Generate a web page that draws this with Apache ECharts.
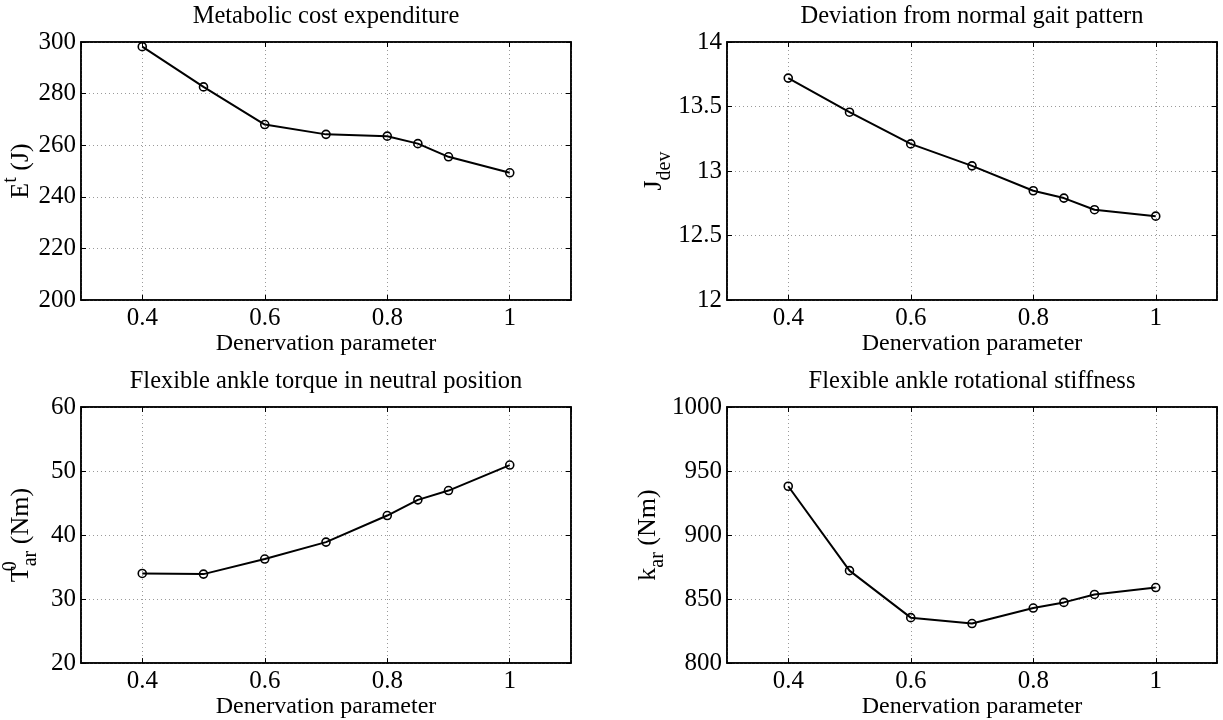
<!DOCTYPE html>
<html>
<head>
<meta charset="utf-8">
<script src="https://cdn.jsdelivr.net/npm/echarts@6/dist/echarts.min.js"></script>
<style>
  html, body { margin: 0; padding: 0; background: #ffffff; }
  #chart { width: 1223px; height: 720px; }
</style>
</head>
<body>
<div id="chart"></div>
<script>
// Denervation parameter sweep and the four resulting quantities
const denervation = [0.4, 0.5, 0.6, 0.7, 0.8, 0.85, 0.9, 1.0];
const metabolicCost = [298.2, 282.6, 268.0, 264.2, 263.5, 260.6, 255.5, 249.3];
const gaitDeviation = [13.72, 13.456, 13.21, 13.04, 12.847, 12.79, 12.70, 12.65];
const neutralTorque = [34.0, 33.9, 36.25, 38.9, 43.05, 45.5, 46.95, 50.93];
const rotStiffness = [938.1, 872.2, 835.5, 830.9, 843.0, 847.4, 853.6, 859.0];

const panelTitles = [
  'Metabolic cost expenditure',
  'Deviation from normal gait pattern',
  'Flexible ankle torque in neutral position',
  'Flexible ankle rotational stiffness'
];
const yLabels = [
  '{m|E}{sup|t}{m| (J)}',
  '{m|J}{sub|dev}',
  '{m|T}{supStack|0}{sub|ar}{m| (Nm)}',
  '{m|k}{sub|ar}{m| (Nm)}'
];
const xLabel = 'Denervation parameter';
const xRange = [0.3, 1.1];
// [min, max, interval] for each panel's vertical axis
const yRanges = [[200, 300, 20], [12, 14, 0.5], [20, 60, 10], [800, 1000, 50]];
const seriesValues = [metabolicCost, gaitDeviation, neutralTorque, rotStiffness];

const FONT = "'Liberation Serif', 'DejaVu Serif', serif";
const panels = [
  { left: 81, top: 42 },
  { left: 727, top: 42 },
  { left: 81, top: 407 },
  { left: 727, top: 407 }
];
const PW = 490, PH = 258;

const textBase = { fontFamily: FONT, color: '#000' };
const richStyles = {
  m: Object.assign({ fontSize: 26, lineHeight: 40, verticalAlign: 'middle' }, textBase),
  sup: Object.assign({ fontSize: 20, lineHeight: 20, verticalAlign: 'top' }, textBase),
  supStack: Object.assign({ fontSize: 20, lineHeight: 20, verticalAlign: 'top', width: 0.01 }, textBase),
  sub: Object.assign({ fontSize: 20, lineHeight: 20, verticalAlign: 'bottom' }, textBase)
};

const tickStyle = { inside: true, length: 5, lineStyle: { color: '#000', width: 1 } };
const lineStyleAxis = { show: true, onZero: false, lineStyle: { color: '#000', width: 1.5 } };
const gridLine = { show: true, lineStyle: { color: '#9a9a9a', width: 1, type: [1, 3] } };

const grid = [], xAxis = [], yAxis = [], series = [], title = [];

panels.forEach((p, i) => {
  grid.push({ left: p.left, top: p.top, width: PW, height: PH, containLabel: false,
              show: true, borderColor: '#000', borderWidth: 1.5, backgroundColor: '#fff' });

  title.push({
    text: panelTitles[i], left: p.left + PW / 2, top: p.top - 38, textAlign: 'center', padding: 0,
    textStyle: { fontFamily: FONT, fontSize: 24.5, fontWeight: 'normal', color: '#000' }
  });

  xAxis.push({
    type: 'value', gridIndex: i, position: 'bottom', min: xRange[0], max: xRange[1],
    axisLine: lineStyleAxis, axisTick: tickStyle, splitLine: gridLine,
    axisLabel: { show: true, margin: 6, showMinLabel: false, showMaxLabel: false,
                 fontFamily: FONT, fontSize: 25, color: '#000' },
    name: xLabel, nameLocation: 'middle', nameGap: 12,
    nameTextStyle: { fontFamily: FONT, fontSize: 24, color: '#000' }
  });
  xAxis.push({
    type: 'value', gridIndex: i, position: 'top', min: xRange[0], max: xRange[1],
    axisLine: lineStyleAxis, axisTick: tickStyle, splitLine: { show: false },
    axisLabel: { show: false }
  });

  const [ymin, ymax, yint] = yRanges[i];
  yAxis.push({
    type: 'value', gridIndex: i, position: 'left', min: ymin, max: ymax, interval: yint,
    axisLine: lineStyleAxis, axisTick: tickStyle, splitLine: gridLine,
    axisLabel: { show: true, margin: 5, fontFamily: FONT, fontSize: 25, color: '#000',
                 formatter: v => String(v) },
    name: yLabels[i], nameLocation: 'middle', nameRotate: 90, nameGap: 40,
    nameTextStyle: { fontFamily: FONT, fontSize: 26, color: '#000', rich: richStyles }
  });
  yAxis.push({
    type: 'value', gridIndex: i, position: 'right', min: ymin, max: ymax, interval: yint,
    axisLine: lineStyleAxis, axisTick: tickStyle, splitLine: { show: false },
    axisLabel: { show: false }
  });

  series.push({
    type: 'line', xAxisIndex: 2 * i, yAxisIndex: 2 * i,
    data: denervation.map((x, k) => [x, seriesValues[i][k]]),
    symbol: 'circle', symbolSize: 8, showSymbol: true,
    itemStyle: { color: 'rgba(0,0,0,0)', borderColor: '#000', borderWidth: 1.6 },
    lineStyle: { color: '#000', width: 2 },
    emphasis: { disabled: true }, silent: true, z: 5
  });
});

const chart = echarts.init(document.getElementById('chart'), null, { renderer: 'canvas' });
chart.setOption({
  animation: false,
  backgroundColor: '#fff',
  title, grid, xAxis, yAxis, series
});
</script>
</body>
</html>
